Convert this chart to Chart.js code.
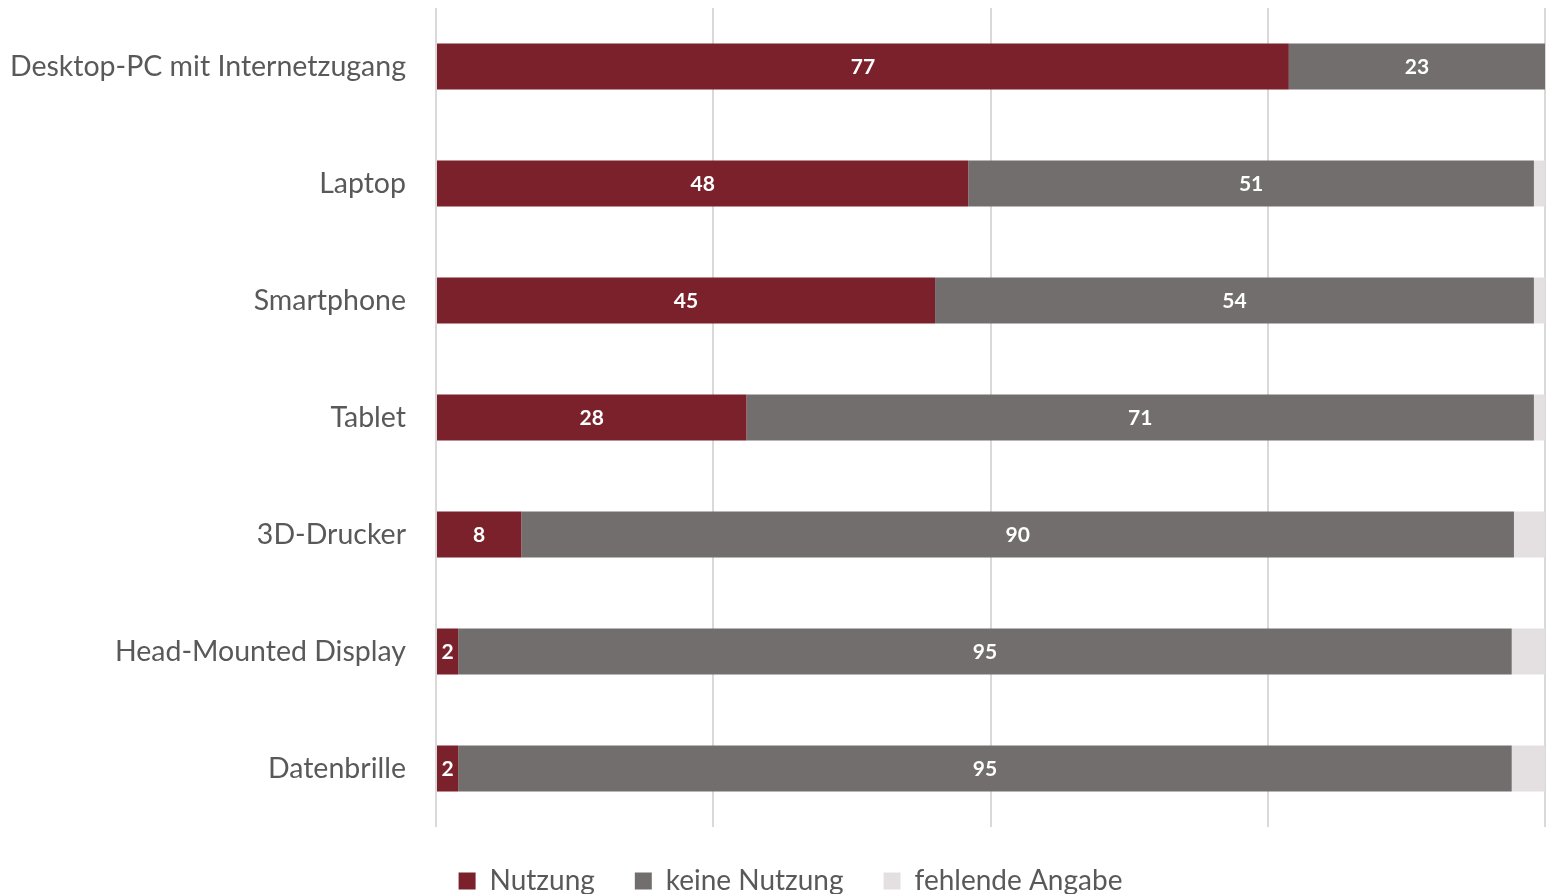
<!DOCTYPE html>
<html>
<head>
<meta charset="utf-8">
<script src="https://cdn.jsdelivr.net/npm/chart.js@4.4.0/dist/chart.umd.min.js"></script>
<style>
  html, body { margin: 0; padding: 0; background: #ffffff; }
  #wrap { width: 1546px; height: 894px; position: relative; }
</style>
</head>
<body>
<div id="wrap"><canvas id="c"></canvas></div>
<script>
const categories = ["Desktop-PC mit Internetzugang", "Laptop", "Smartphone", "Tablet", "3D-Drucker", "Head-Mounted Display", "Datenbrille"];
const nutzung = [76.9, 48, 45, 28, 7.7, 2, 2];
const keineNutzung = [23.1, 51, 54, 71, 89.5, 95, 95];
const fehlendeAngabe = [0, 1, 1, 1, 2.8, 3, 3];
const seriesNames = ["Nutzung", "keine Nutzung", "fehlende Angabe"];

const FONT = "Lato, 'Open Sans', sans-serif";

const labelPlugin = {
  id: 'barLabels',
  afterLayout(chart) {
    if (chart.legend) { chart.legend.left += 18; chart.legend.right += 18; }
  },
  afterDatasetsDraw(chart) {
    const ctx = chart.ctx;
    ctx.save();
    ctx.fillStyle = '#ffffff';
    ctx.font = 'bold 21px ' + FONT;
    ctx.textAlign = 'center';
    ctx.textBaseline = 'middle';
    [0, 1].forEach(di => {
      const meta = chart.getDatasetMeta(di);
      meta.data.forEach((bar, i) => {
        const v = chart.data.datasets[di].data[i];
        if (!v) return;
        const cx = (bar.x + bar.base) / 2;
        ctx.fillText(String(Math.round(v)), cx, bar.y + 1);
      });
    });
    ctx.restore();
  }
};

new Chart(document.getElementById('c'), {
  type: 'bar',
  data: {
    labels: categories,
    datasets: [
      { label: seriesNames[0], data: nutzung, backgroundColor: '#7a212b' },
      { label: seriesNames[1], data: keineNutzung, backgroundColor: '#736e6e' },
      { label: seriesNames[2], data: fehlendeAngabe, backgroundColor: '#e4e0e2' }
    ]
  },
  options: {
    indexAxis: 'y',
    responsive: true,
    maintainAspectRatio: false,
    animation: false,
    datasets: { bar: { categoryPercentage: 1, barPercentage: 0.393, borderWidth: 0 } },
    layout: { padding: { top: 8, right: 1, bottom: -11, left: 0 } },
    scales: {
      x: {
        stacked: true, min: 0, max: 100,
        ticks: { display: false, stepSize: 25 },
        grid: { color: '#d9d9d9', lineWidth: 2, drawTicks: false },
        border: { display: false }
      },
      y: {
        stacked: true,
        grid: { display: false, drawTicks: false },
        border: { display: false },
        ticks: { color: '#595959', font: { family: FONT, size: 28.5 }, padding: 30 },
        afterFit(scale) { scale.width = 436; scale.paddingTop = 0; scale.paddingBottom = 0; }
      }
    },
    plugins: {
      legend: {
        position: 'bottom',
        labels: {
          color: '#595959',
          font: { family: FONT, size: 28 },
          boxWidth: 17, boxHeight: 17,
          padding: 40
        }
      },
      tooltip: { enabled: false }
    }
  },
  plugins: [labelPlugin]
});
</script>
</body>
</html>
